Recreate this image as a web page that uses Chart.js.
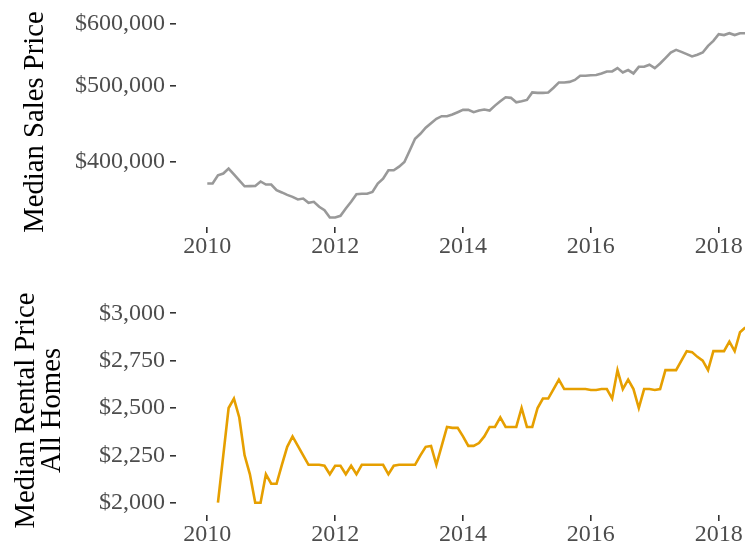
<!DOCTYPE html>
<html><head><meta charset="utf-8">
<script src="https://cdn.jsdelivr.net/npm/chart.js@4/dist/chart.umd.min.js"></script>
<style>html,body{margin:0;padding:0;background:#fff;width:745px;height:546px;overflow:hidden;} canvas{position:absolute;left:0;}</style>
</head><body>
<canvas id="top" width="745" height="265" style="top:0px"></canvas>
<canvas id="bot" width="745" height="281" style="top:265px"></canvas>
<script>
const months = [
 "2010-01","2010-02","2010-03","2010-04","2010-05","2010-06","2010-07","2010-08","2010-09","2010-10","2010-11","2010-12",
 "2011-01","2011-02","2011-03","2011-04","2011-05","2011-06","2011-07","2011-08","2011-09","2011-10","2011-11","2011-12",
 "2012-01","2012-02","2012-03","2012-04","2012-05","2012-06","2012-07","2012-08","2012-09","2012-10","2012-11","2012-12",
 "2013-01","2013-02","2013-03","2013-04","2013-05","2013-06","2013-07","2013-08","2013-09","2013-10","2013-11","2013-12",
 "2014-01","2014-02","2014-03","2014-04","2014-05","2014-06","2014-07","2014-08","2014-09","2014-10","2014-11","2014-12",
 "2015-01","2015-02","2015-03","2015-04","2015-05","2015-06","2015-07","2015-08","2015-09","2015-10","2015-11","2015-12",
 "2016-01","2016-02","2016-03","2016-04","2016-05","2016-06","2016-07","2016-08","2016-09","2016-10","2016-11","2016-12",
 "2017-01","2017-02","2017-03","2017-04","2017-05","2017-06","2017-07","2017-08","2017-09","2017-10","2017-11","2017-12",
 "2018-01","2018-02","2018-03","2018-04","2018-05","2018-06"
];
const salesPrice = [
 374600,374600,383900,385800,391500,384800,378200,371600,371800,372000,376900,373500,
 373500,367300,364900,362300,360200,357400,358400,353900,354900,349800,346300,338900,
 338900,340600,348000,354900,363000,363500,363500,365400,374600,380000,389600,389600,
 393800,399200,413000,427600,433900,441700,447700,453500,457000,457000,459300,462400,
 465600,465600,462400,464700,466000,464700,471500,477500,483200,482400,476100,477500,
 479400,490200,489500,489500,490200,497000,504900,504900,505700,508600,515000,515000,
 515800,516200,518500,521500,521500,526700,520000,523700,518500,528700,528700,532000,
 526700,534000,542500,551500,555800,552600,548900,545100,547800,551500,562500,570800,
 582200,580600,583800,580600,583800,583800
];
const rentalPrice = [
 null,null,2000,2250,2500,2550,2450,2250,2150,2000,2000,2150,
 2100,2100,2200,2295,2350,2300,2250,2200,2200,2200,2195,2150,
 2195,2195,2150,2195,2150,2200,2200,2200,2200,2200,2150,2195,
 2200,2200,2200,2200,2250,2295,2300,2200,2300,2400,2395,2395,
 2350,2300,2300,2315,2350,2400,2400,2450,2400,2400,2400,2500,
 2400,2400,2500,2550,2550,2600,2650,2600,2600,2600,2600,2600,
 2595,2595,2600,2600,2550,2700,2600,2650,2600,2500,2600,2600,
 2595,2600,2700,2700,2700,2750,2800,2795,2770,2750,2700,2800,
 2800,2800,2850,2800,2900,2925
];
const yearTicks = [2010, 2012, 2014, 2016, 2018];
const salesTicks = [400000, 500000, 600000];
const rentalTicks = [2000, 2250, 2500, 2750, 3000];
const salesTitle = ["Median Sales Price"];
const rentalTitle = ["Median Rental Price", "All Homes"];

function toYear(s){ const p = s.split('-'); return Number(p[0]) + (Number(p[1]) - 1) / 12; }
function series(vals){ return months.map((m, i) => ({x: toYear(m), y: vals[i]})); }

const FONT = 'Liberation Serif';
const sideTitle = {
  id: 'sideTitle',
  afterDraw(chart, args, opts) {
    const ctx = chart.ctx, ca = chart.chartArea;
    const cy = (ca.top + ca.bottom) / 2;
    ctx.save();
    ctx.fillStyle = '#000000';
    ctx.font = opts.size + 'px "' + FONT + '"';
    ctx.textAlign = 'center';
    ctx.textBaseline = 'alphabetic';
    opts.lines.forEach((line, i) => {
      ctx.save();
      ctx.translate(opts.x + i * opts.gap, cy);
      ctx.rotate(-Math.PI / 2);
      ctx.fillText(line, 0, 0);
      ctx.restore();
    });
    ctx.restore();
  }
};

function makeOptions(cfg) {
  const tickGrid = {drawOnChartArea: false, drawTicks: true, tickLength: 6, color: '#333333', lineWidth: 1.6};
  return {
    animation: false, responsive: false, devicePixelRatio: 1,
    layout: {padding: {top: cfg.padTop, left: 0, right: 0, bottom: 0}},
    plugins: {legend: {display: false}, tooltip: {enabled: false},
      sideTitle: {lines: cfg.title, x: cfg.titleX, gap: 26, size: 28.7}},
    elements: {point: {radius: 0}, line: {tension: 0}},
    scales: {
      x: {type: 'linear', min: 2009.5104, max: 2018.4114,
        afterBuildTicks: s => { s.ticks = yearTicks.map(v => ({value: v})); },
        afterFit: s => { s.height = cfg.xHeight; },
        grid: tickGrid, border: {display: false},
        ticks: {callback: v => String(v), color: '#4D4D4D', font: {family: FONT, size: 24, lineHeight: 1}, padding: 2, maxRotation: 0, autoSkip: false}
      },
      y: {type: cfg.yType, min: cfg.yMin, max: cfg.yMax,
        afterBuildTicks: s => { s.ticks = cfg.yTicks.map(v => ({value: v})); },
        afterFit: s => { s.width = 176; },
        grid: tickGrid, border: {display: false},
        ticks: {callback: v => '$' + Number(v).toLocaleString('en-US'), color: '#4D4D4D', font: {family: FONT, size: 24, lineHeight: 1}, padding: 5}
      }
    }
  };
}

new Chart(document.getElementById('top'), {
  type: 'line',
  data: {datasets: [{data: series(salesPrice), borderColor: '#999999', borderWidth: 2.6, fill: false}]},
  options: makeOptions({padTop: 16, xHeight: 38, yType: 'logarithmic', yMin: 329500, yMax: 612470, yTicks: salesTicks, title: salesTitle, titleX: 43}),
  plugins: [sideTitle]
});
new Chart(document.getElementById('bot'), {
  type: 'line',
  data: {datasets: [{data: series(rentalPrice), borderColor: '#E69F00', borderWidth: 2.6, fill: false, spanGaps: false}]},
  options: makeOptions({padTop: 41, xHeight: 31, yType: 'linear', yMin: 1935.06, yMax: 3038.5, yTicks: rentalTicks, title: rentalTitle, titleX: 34}),
  plugins: [sideTitle]
});
</script>
</body></html>
